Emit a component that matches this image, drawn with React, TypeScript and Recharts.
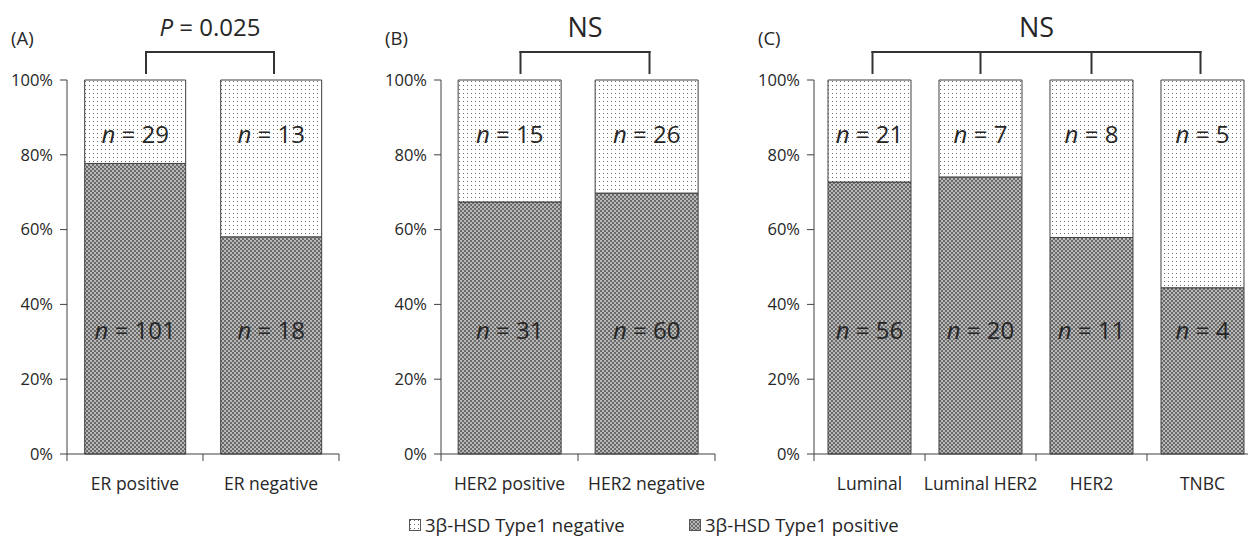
import { BarChart, Bar, XAxis, YAxis, LabelList } from 'recharts';

const panelACategories = ['ER positive', 'ER negative'];
const panelAPositive = [101, 18];
const panelANegative = [29, 13];

const panelBCategories = ['HER2 positive', 'HER2 negative'];
const panelBPositive = [31, 60];
const panelBNegative = [15, 26];

const panelCCategories = ['Luminal', 'Luminal HER2', 'HER2', 'TNBC'];
const panelCPositive = [56, 20, 11, 4];
const panelCNegative = [21, 7, 8, 5];

const percentTicks = [0, 0.2, 0.4, 0.6, 0.8, 1];
const seriesNames = ['3β-HSD Type1 negative', '3β-HSD Type1 positive'];

const FONT = "'Open Sans', sans-serif";
const INK = '#262626';
const AXIS = '#404040';
const PLOT_TOP = 80;
const PLOT_BOTTOM = 454;
const CHART_H = 540;
const Y_AXIS_W = 60;
const MARGIN_LEFT = 7;
const MARGIN_RIGHT = 6;

// y of a fraction on the 0..1 scale
const yOf = (v: number) => PLOT_TOP + (PLOT_BOTTOM - PLOT_TOP) * (1 - v);

function NLabel({ x, y, count }: { x: number; y: number; count: number }) {
  return (
    <text x={x} y={y} textAnchor="middle" dominantBaseline="central" fontFamily={FONT} fontSize={24} fill={INK}>
      <tspan fontStyle="italic">n</tspan> = {count}
    </text>
  );
}

interface PanelProps {
  left: number;
  width: number;
  tag: string;
  categories: string[];
  positive: number[];
  negative: number[];
  gap: string;
  title: React.ReactNode;
  titleSize: number;
  inset?: [number, number];
}

function Panel({ left, width, tag, categories, positive, negative, gap, title, titleSize, inset = [0, 0] }: PanelProps) {
  const data = categories.map((name, i) => ({ name, pos: positive[i], neg: negative[i] }));
  const plotLeft = MARGIN_LEFT + Y_AXIS_W;
  const band = (width - plotLeft - MARGIN_RIGHT) / categories.length;
  const centers = categories.map((_, i) => plotLeft + band * (i + 0.5));
  const drops = centers.map((c, i) => (i === 0 ? c + inset[0] : i === centers.length - 1 ? c + inset[1] : c));
  const bx0 = drops[0];
  const bx1 = drops[drops.length - 1];

  const catTick = (props: any) => {
    const { x, payload, index } = props;
    const r = x + band / 2;
    const l = x - band / 2;
    return (
      <g>
        {index === 0 && <line x1={l} x2={l} y1={PLOT_BOTTOM} y2={PLOT_BOTTOM + 7} stroke={AXIS} />}
        <line x1={r} x2={r} y1={PLOT_BOTTOM} y2={PLOT_BOTTOM + 7} stroke={AXIS} />
        <text x={x} y={PLOT_BOTTOM + 36} textAnchor="middle" fontFamily={FONT} fontSize={17.5} fill={INK}>
          {payload.value}
        </text>
      </g>
    );
  };

  return (
    <div style={{ position: 'absolute', left, top: 0, width, height: CHART_H }}>
      <BarChart
        width={width}
        height={CHART_H}
        data={data}
        stackOffset="expand"
        barCategoryGap={gap}
        margin={{ top: PLOT_TOP, right: MARGIN_RIGHT, bottom: 56, left: MARGIN_LEFT }}
      >
        <YAxis
          type="number"
          domain={[0, 1]}
          ticks={percentTicks}
          width={Y_AXIS_W}
          tickFormatter={(v: number) => `${Math.round(v * 100)}%`}
          tick={{ fill: INK, fontSize: 16.5, fontFamily: FONT }}
          tickSize={7}
          tickMargin={7}
          axisLine={{ stroke: AXIS }}
          tickLine={{ stroke: AXIS }}
        />
        <XAxis
          dataKey="name"
          interval={0}
          height={30}
          tickLine={false}
          axisLine={{ stroke: AXIS }}
          tick={catTick}
        />
        <Bar dataKey="pos" stackId="s" fill="url(#chk)" stroke={AXIS} strokeWidth={1} isAnimationActive={false}>
          <LabelList
            dataKey="pos"
            content={(p: any) => <NLabel x={p.x + p.width / 2} y={yOf(0.334)} count={positive[p.index]} />}
          />
        </Bar>
        <Bar dataKey="neg" stackId="s" fill="url(#dots)" stroke={AXIS} strokeWidth={1} isAnimationActive={false}>
          <LabelList
            dataKey="neg"
            content={(p: any) => <NLabel x={p.x + p.width / 2} y={yOf(0.857)} count={negative[p.index]} />}
          />
        </Bar>
      </BarChart>
      <svg width={width} height={100} style={{ position: 'absolute', left: 0, top: 0, pointerEvents: 'none' }}>
        <text x={plotLeft - 56} y={37} dominantBaseline="central" fontFamily={FONT} fontSize={18.5} fill={INK}>
          {tag}
        </text>
        <text x={(bx0 + bx1) / 2} y={26} textAnchor="middle" dominantBaseline="central" fontFamily={FONT} fontSize={titleSize} fill={INK}>
          {title}
        </text>
        <line x1={bx0 - 1} x2={bx1 + 1} y1={52} y2={52} stroke="#333" strokeWidth={2} />
        {drops.map((c, i) => (
          <line key={i} x1={c} x2={c} y1={51} y2={74} stroke="#333" strokeWidth={2} />
        ))}
      </svg>
    </div>
  );
}

function Swatch({ fill }: { fill: string }) {
  return (
    <svg width={12} height={12} style={{ display: 'block' }}>
      <rect x={0.5} y={0.5} width={11} height={11} fill={fill} stroke="#555" />
    </svg>
  );
}

export default function App() {
  return (
    <div style={{ position: 'absolute', left: 0, top: 0, width: 1248, height: 540, overflow: 'hidden', background: '#fff' }}>
      <svg width={0} height={0} style={{ position: 'absolute' }}>
        <defs>
          <pattern id="chk" width={4} height={4} patternUnits="userSpaceOnUse">
            <rect width={4} height={4} fill="#b8b8b8" />
            <rect width={2} height={2} fill="#6a6a6a" />
            <rect x={2} y={2} width={2} height={2} fill="#6a6a6a" />
          </pattern>
          <pattern id="dots" width={4} height={4} patternUnits="userSpaceOnUse">
            <rect width={4} height={4} fill="#fff" />
            <rect x={1} y={1} width={1} height={1} fill="#6a6a6a" />
          </pattern>
        </defs>
      </svg>
      <Panel
        left={0}
        width={345}
        tag="(A)"
        gap="13%"
        categories={panelACategories}
        positive={panelAPositive}
        negative={panelANegative}
        inset={[11, 3]}
        titleSize={24}
        title={
          <>
            <tspan fontStyle="italic">P</tspan> = 0.025
          </>
        }
      />
      <Panel
        left={374}
        width={347}
        tag="(B)"
        gap="12.5%"
        categories={panelBCategories}
        positive={panelBPositive}
        negative={panelBNegative}
        inset={[11, 3]}
        titleSize={27}
        title="NS"
      />
      <Panel
        left={747}
        width={517}
        tag="(C)"
        gap="12.6%"
        categories={panelCCategories}
        positive={panelCPositive}
        negative={panelCNegative}
        inset={[3, -2]}
        titleSize={27}
        title="NS"
      />
      <div
        style={{
          position: 'absolute',
          top: 512,
          left: 409,
          display: 'flex',
          alignItems: 'center',
          fontFamily: FONT,
          fontSize: 18.5,
          color: INK,
        }}
      >
        <Swatch fill="url(#dots)" />
        <span style={{ marginLeft: 4, width: 264 }}>{seriesNames[0]}</span>
        <Swatch fill="url(#chk)" />
        <span style={{ marginLeft: 4 }}>{seriesNames[1]}</span>
      </div>
    </div>
  );
}
